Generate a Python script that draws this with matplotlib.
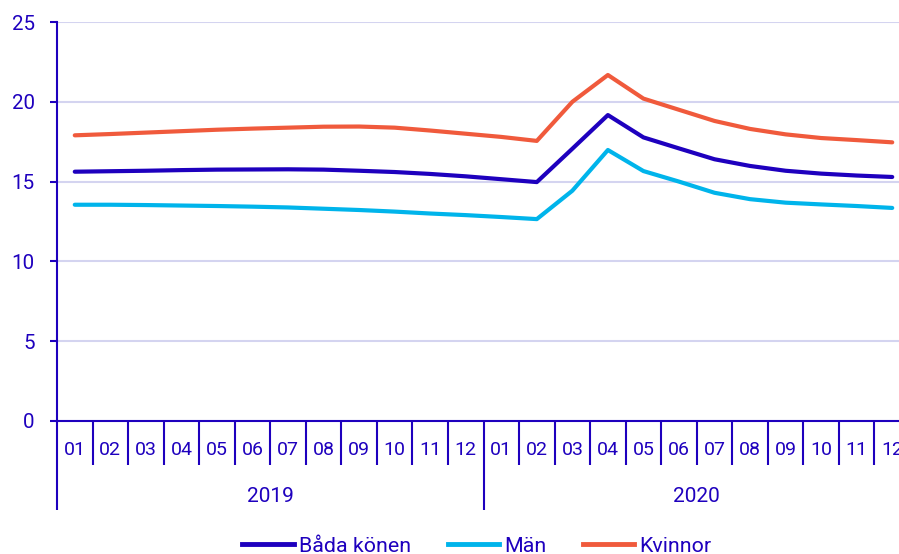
import matplotlib.pyplot as plt
from matplotlib.lines import Line2D

plt.rcParams['font.family'] = ['Roboto', 'DejaVu Sans']

# Data
years = ["2019", "2020"]
months = ["01", "02", "03", "04", "05", "06", "07", "08", "09", "10", "11", "12"]

bada = [15.62, 15.65, 15.68, 15.72, 15.75, 15.76, 15.77, 15.75, 15.68, 15.60, 15.48, 15.33,
        15.15, 14.97, 17.06, 19.17, 17.77, 17.08, 16.40, 15.98, 15.68, 15.50, 15.38, 15.29]
man = [13.55, 13.55, 13.53, 13.50, 13.47, 13.43, 13.38, 13.30, 13.22, 13.12, 13.00, 12.90,
       12.78, 12.65, 14.43, 16.98, 15.66, 15.00, 14.30, 13.90, 13.68, 13.57, 13.47, 13.35]
kvinnor = [17.90, 17.98, 18.07, 18.16, 18.25, 18.32, 18.38, 18.44, 18.45, 18.38, 18.20, 18.00,
           17.80, 17.55, 20.00, 21.68, 20.20, 19.50, 18.80, 18.30, 17.96, 17.73, 17.60, 17.46]

labels = ["Båda könen", "Män", "Kvinnor"]
colors = ["#1e00be", "#00b4eb", "#f05a3c"]
text_col = "#1e00be"
grid_col = "#d4d4f0"

W, H = 899, 554
fig = plt.figure(figsize=(W / 100, H / 100), dpi=100)
ax = fig.add_axes([57 / W, 1 - 421 / H, (910 - 57) / W, (421 - 22) / H])

x = list(range(len(bada)))
for s, c, lab in zip([bada, man, kvinnor], colors, labels):
    ax.plot(x, s, color=c, lw=3, label=lab, solid_capstyle='round', zorder=3)

ax.set_xlim(-0.5, len(x) - 0.5)
ax.set_ylim(0, 25)
ax.set_yticks([0, 5, 10, 15, 20, 25])
ax.grid(axis='y', color=grid_col, lw=1.5)
ax.set_axisbelow(True)

for sp in ["top", "right"]:
    ax.spines[sp].set_visible(False)
for sp in ["left", "bottom"]:
    ax.spines[sp].set_color(text_col)
    ax.spines[sp].set_linewidth(1.5)

ax.tick_params(axis='y', colors=text_col, labelsize=14.8, length=5, width=1.5, pad=11)

# category separators as ticks
ax.set_xticks([-0.5, 11.5, 23.5])
ax.set_xticks([i - 0.5 for i in range(1, len(x))], minor=True)
ax.tick_params(axis='x', which='major', length=64, width=1.5, color=text_col, labelbottom=False)
ax.tick_params(axis='x', which='minor', length=32, width=1.5, color=text_col)

tr = ax.get_xaxis_transform()
for i in x:
    ax.text(i, -29 / 399, months[i % 12], transform=tr, ha='center', va='center',
            color=text_col, fontsize=14)
for j, yr in enumerate(years):
    ax.text(j * 12 + 5.5, -75 / 399, yr, transform=tr, ha='center', va='center',
            color=text_col, fontsize=15)

handles = [Line2D([], [], color=c, lw=3.5) for c in colors]
fig.legend(handles, labels, loc='center', bbox_to_anchor=(477 / W, 1 - 546 / H), ncol=3,
           frameon=False, fontsize=15.4, handlelength=2.4, handletextpad=0.25, columnspacing=1.7,
           labelcolor=text_col)

fig.savefig("out.png", dpi=100)
